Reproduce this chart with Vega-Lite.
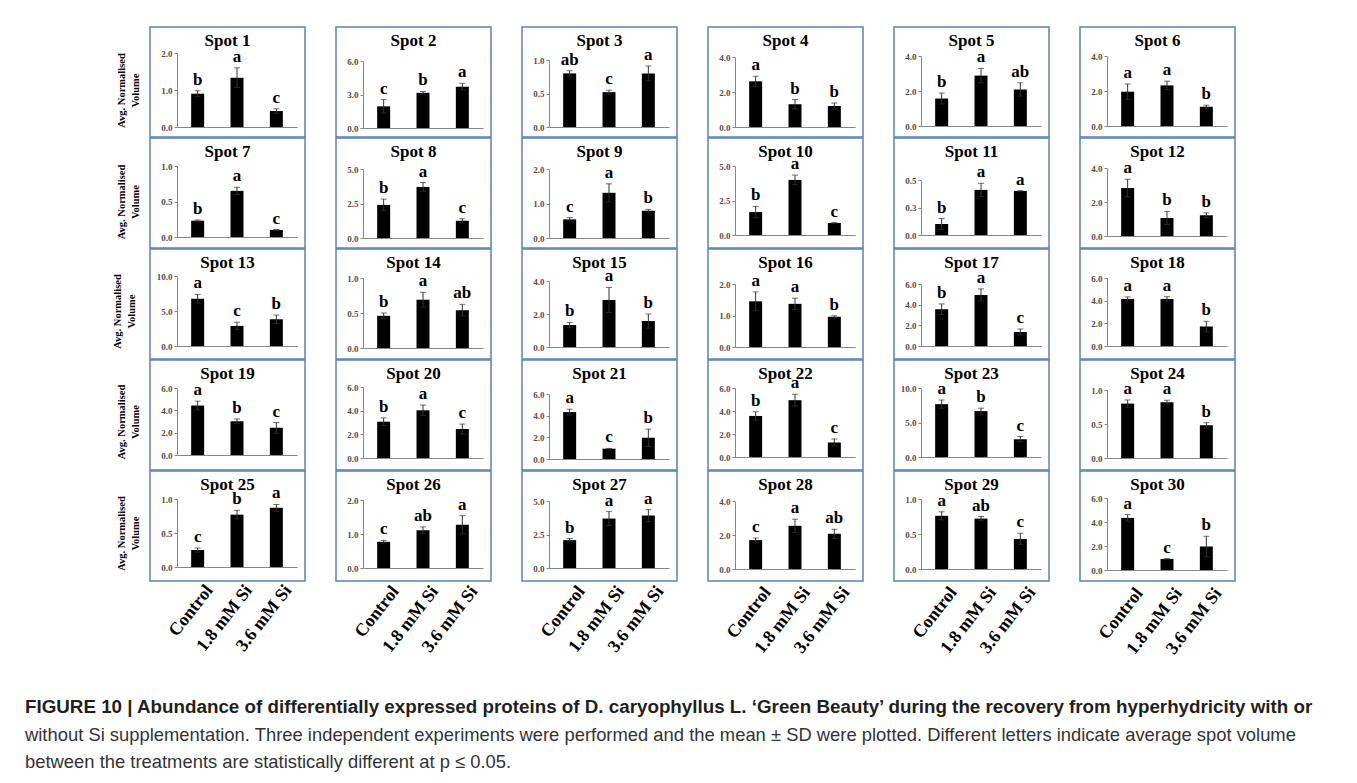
{
"$schema":"https://vega.github.io/schema/vega-lite/v6.json",
"background":"white",
"padding":{"left":25,"top":26,"right":5,"bottom":5},
"datasets":{"d":[
{"spot":1,"treatment":"Control","mean":0.90,"low":0.82,"high":0.98,"letter":"b"},
{"spot":1,"treatment":"1.8 mM Si","mean":1.33,"low":1.07,"high":1.60,"letter":"a"},
{"spot":1,"treatment":"3.6 mM Si","mean":0.43,"low":0.37,"high":0.49,"letter":"c"},
{"spot":2,"treatment":"Control","mean":1.94,"low":1.34,"high":2.54,"letter":"c"},
{"spot":2,"treatment":"1.8 mM Si","mean":3.15,"low":3.03,"high":3.27,"letter":"b"},
{"spot":2,"treatment":"3.6 mM Si","mean":3.70,"low":3.40,"high":4.00,"letter":"a"},
{"spot":3,"treatment":"Control","mean":0.80,"low":0.76,"high":0.84,"letter":"ab"},
{"spot":3,"treatment":"1.8 mM Si","mean":0.52,"low":0.49,"high":0.55,"letter":"c"},
{"spot":3,"treatment":"3.6 mM Si","mean":0.80,"low":0.69,"high":0.91,"letter":"a"},
{"spot":4,"treatment":"Control","mean":2.61,"low":2.32,"high":2.90,"letter":"a"},
{"spot":4,"treatment":"1.8 mM Si","mean":1.30,"low":1.03,"high":1.57,"letter":"b"},
{"spot":4,"treatment":"3.6 mM Si","mean":1.20,"low":1.03,"high":1.37,"letter":"b"},
{"spot":5,"treatment":"Control","mean":1.57,"low":1.26,"high":1.88,"letter":"b"},
{"spot":5,"treatment":"1.8 mM Si","mean":2.88,"low":2.47,"high":3.29,"letter":"a"},
{"spot":5,"treatment":"3.6 mM Si","mean":2.09,"low":1.71,"high":2.47,"letter":"ab"},
{"spot":6,"treatment":"Control","mean":1.96,"low":1.52,"high":2.40,"letter":"a"},
{"spot":6,"treatment":"1.8 mM Si","mean":2.32,"low":2.08,"high":2.56,"letter":"a"},
{"spot":6,"treatment":"3.6 mM Si","mean":1.10,"low":1.01,"high":1.19,"letter":"b"},
{"spot":7,"treatment":"Control","mean":0.23,"low":0.22,"high":0.24,"letter":"b"},
{"spot":7,"treatment":"1.8 mM Si","mean":0.65,"low":0.60,"high":0.70,"letter":"a"},
{"spot":7,"treatment":"3.6 mM Si","mean":0.10,"low":0.095,"high":0.105,"letter":"c"},
{"spot":8,"treatment":"Control","mean":2.40,"low":1.98,"high":2.82,"letter":"b"},
{"spot":8,"treatment":"1.8 mM Si","mean":3.70,"low":3.38,"high":4.02,"letter":"a"},
{"spot":8,"treatment":"3.6 mM Si","mean":1.25,"low":1.10,"high":1.40,"letter":"c"},
{"spot":9,"treatment":"Control","mean":0.54,"low":0.49,"high":0.59,"letter":"c"},
{"spot":9,"treatment":"1.8 mM Si","mean":1.31,"low":1.05,"high":1.57,"letter":"a"},
{"spot":9,"treatment":"3.6 mM Si","mean":0.79,"low":0.75,"high":0.83,"letter":"b"},
{"spot":10,"treatment":"Control","mean":1.66,"low":1.25,"high":2.07,"letter":"b"},
{"spot":10,"treatment":"1.8 mM Si","mean":3.99,"low":3.64,"high":4.34,"letter":"a"},
{"spot":10,"treatment":"3.6 mM Si","mean":0.87,"low":0.84,"high":0.90,"letter":"c"},
{"spot":11,"treatment":"Control","mean":0.10,"low":0.05,"high":0.15,"letter":"b"},
{"spot":11,"treatment":"1.8 mM Si","mean":0.41,"low":0.35,"high":0.47,"letter":"a"},
{"spot":11,"treatment":"3.6 mM Si","mean":0.40,"low":0.397,"high":0.403,"letter":"a"},
{"spot":12,"treatment":"Control","mean":2.82,"low":2.30,"high":3.34,"letter":"a"},
{"spot":12,"treatment":"1.8 mM Si","mean":1.06,"low":0.67,"high":1.45,"letter":"b"},
{"spot":12,"treatment":"3.6 mM Si","mean":1.22,"low":1.08,"high":1.36,"letter":"b"},
{"spot":13,"treatment":"Control","mean":6.75,"low":6.13,"high":7.37,"letter":"a"},
{"spot":13,"treatment":"1.8 mM Si","mean":2.87,"low":2.34,"high":3.40,"letter":"c"},
{"spot":13,"treatment":"3.6 mM Si","mean":3.83,"low":3.23,"high":4.43,"letter":"b"},
{"spot":14,"treatment":"Control","mean":0.46,"low":0.42,"high":0.50,"letter":"b"},
{"spot":14,"treatment":"1.8 mM Si","mean":0.69,"low":0.585,"high":0.795,"letter":"a"},
{"spot":14,"treatment":"3.6 mM Si","mean":0.54,"low":0.456,"high":0.624,"letter":"ab"},
{"spot":15,"treatment":"Control","mean":1.33,"low":1.17,"high":1.49,"letter":"b"},
{"spot":15,"treatment":"1.8 mM Si","mean":2.85,"low":2.09,"high":3.61,"letter":"a"},
{"spot":15,"treatment":"3.6 mM Si","mean":1.57,"low":1.14,"high":2.00,"letter":"b"},
{"spot":16,"treatment":"Control","mean":1.45,"low":1.15,"high":1.75,"letter":"a"},
{"spot":16,"treatment":"1.8 mM Si","mean":1.37,"low":1.19,"high":1.55,"letter":"a"},
{"spot":16,"treatment":"3.6 mM Si","mean":0.96,"low":0.93,"high":0.99,"letter":"b"},
{"spot":17,"treatment":"Control","mean":3.56,"low":3.05,"high":4.07,"letter":"b"},
{"spot":17,"treatment":"1.8 mM Si","mean":4.94,"low":4.35,"high":5.53,"letter":"a"},
{"spot":17,"treatment":"3.6 mM Si","mean":1.35,"low":1.06,"high":1.64,"letter":"c"},
{"spot":18,"treatment":"Control","mean":4.15,"low":3.97,"high":4.33,"letter":"a"},
{"spot":18,"treatment":"1.8 mM Si","mean":4.15,"low":3.95,"high":4.35,"letter":"a"},
{"spot":18,"treatment":"3.6 mM Si","mean":1.71,"low":1.24,"high":2.18,"letter":"b"},
{"spot":19,"treatment":"Control","mean":4.43,"low":4.04,"high":4.82,"letter":"a"},
{"spot":19,"treatment":"1.8 mM Si","mean":3.02,"low":2.81,"high":3.23,"letter":"b"},
{"spot":19,"treatment":"3.6 mM Si","mean":2.43,"low":1.95,"high":2.91,"letter":"c"},
{"spot":20,"treatment":"Control","mean":3.07,"low":2.75,"high":3.39,"letter":"b"},
{"spot":20,"treatment":"1.8 mM Si","mean":4.03,"low":3.59,"high":4.47,"letter":"a"},
{"spot":20,"treatment":"3.6 mM Si","mean":2.45,"low":2.03,"high":2.87,"letter":"c"},
{"spot":21,"treatment":"Control","mean":4.33,"low":4.06,"high":4.60,"letter":"a"},
{"spot":21,"treatment":"1.8 mM Si","mean":0.95,"low":0.92,"high":0.98,"letter":"c"},
{"spot":21,"treatment":"3.6 mM Si","mean":1.96,"low":1.16,"high":2.76,"letter":"b"},
{"spot":22,"treatment":"Control","mean":3.57,"low":3.20,"high":3.94,"letter":"b"},
{"spot":22,"treatment":"1.8 mM Si","mean":4.94,"low":4.43,"high":5.45,"letter":"a"},
{"spot":22,"treatment":"3.6 mM Si","mean":1.26,"low":0.95,"high":1.57,"letter":"c"},
{"spot":23,"treatment":"Control","mean":7.66,"low":7.06,"high":8.26,"letter":"a"},
{"spot":23,"treatment":"1.8 mM Si","mean":6.65,"low":6.22,"high":7.08,"letter":"b"},
{"spot":23,"treatment":"3.6 mM Si","mean":2.58,"low":2.20,"high":2.96,"letter":"c"},
{"spot":24,"treatment":"Control","mean":0.80,"low":0.746,"high":0.854,"letter":"a"},
{"spot":24,"treatment":"1.8 mM Si","mean":0.82,"low":0.79,"high":0.85,"letter":"a"},
{"spot":24,"treatment":"3.6 mM Si","mean":0.48,"low":0.44,"high":0.52,"letter":"b"},
{"spot":25,"treatment":"Control","mean":0.25,"low":0.22,"high":0.28,"letter":"c"},
{"spot":25,"treatment":"1.8 mM Si","mean":0.77,"low":0.706,"high":0.834,"letter":"b"},
{"spot":25,"treatment":"3.6 mM Si","mean":0.87,"low":0.82,"high":0.92,"letter":"a"},
{"spot":26,"treatment":"Control","mean":0.77,"low":0.73,"high":0.81,"letter":"c"},
{"spot":26,"treatment":"1.8 mM Si","mean":1.11,"low":1.01,"high":1.21,"letter":"ab"},
{"spot":26,"treatment":"3.6 mM Si","mean":1.27,"low":1.00,"high":1.54,"letter":"a"},
{"spot":27,"treatment":"Control","mean":2.08,"low":1.96,"high":2.20,"letter":"b"},
{"spot":27,"treatment":"1.8 mM Si","mean":3.69,"low":3.17,"high":4.21,"letter":"a"},
{"spot":27,"treatment":"3.6 mM Si","mean":3.91,"low":3.46,"high":4.36,"letter":"a"},
{"spot":28,"treatment":"Control","mean":1.70,"low":1.58,"high":1.82,"letter":"c"},
{"spot":28,"treatment":"1.8 mM Si","mean":2.54,"low":2.15,"high":2.93,"letter":"a"},
{"spot":28,"treatment":"3.6 mM Si","mean":2.07,"low":1.80,"high":2.34,"letter":"ab"},
{"spot":29,"treatment":"Control","mean":0.76,"low":0.703,"high":0.817,"letter":"a"},
{"spot":29,"treatment":"1.8 mM Si","mean":0.72,"low":0.69,"high":0.75,"letter":"ab"},
{"spot":29,"treatment":"3.6 mM Si","mean":0.43,"low":0.35,"high":0.51,"letter":"c"},
{"spot":30,"treatment":"Control","mean":4.34,"low":4.06,"high":4.62,"letter":"a"},
{"spot":30,"treatment":"1.8 mM Si","mean":0.92,"low":0.89,"high":0.95,"letter":"c"},
{"spot":30,"treatment":"3.6 mM Si","mean":1.96,"low":1.11,"high":2.81,"letter":"b"}
]},
"data":{"name":"d"},
"title":{"text":"FIGURE 10 | Abundance of differentially expressed proteins of D. caryophyllus L. ‘Green Beauty’ during the recovery from hyperhydricity with or","subtitle":["without Si supplementation. Three independent experiments were performed and the mean ± SD were plotted. Different letters indicate average spot volume","between the treatments are statistically different at p ≤ 0.05."],"orient":"bottom","anchor":"start","frame":"group","offset":40,"dx":-125,"font":"Liberation Sans","fontSize":18.8,"fontWeight":"bold","color":"#231f20","subtitleFont":"Liberation Sans","subtitleFontSize":18.4,"subtitleColor":"#333333","subtitlePadding":9,"subtitleLineHeight":27},
"columns":6,
"spacing":{"row":1,"column":31},
"bounds":"flush",
"resolve":{"scale":{"x":"independent","y":"independent"},"axis":{"x":"independent","y":"independent"}},
"config":{
"view":{"stroke":"#5a82b8","strokeWidth":1.5,"continuousWidth":155,"continuousHeight":110,"discreteWidth":155,"discreteHeight":110},
"title":{"font":"Liberation Serif","fontSize":17,"fontWeight":"bold","color":"black","offset":-23,"frame":"group","anchor":"middle"},
"scale":{"bandPaddingInner":0.67,"bandPaddingOuter":0.36},
"bar":{"color":"black"},
"rule":{"color":"#333333","strokeWidth":1},
"tick":{"color":"#333333","thickness":1},
"text":{"font":"Liberation Serif","fontWeight":"bold","fontSize":17,"baseline":"bottom","dy":-2,"color":"black"},
"axis":{"grid":false},
"axisY":{"offset":-27,"domainColor":"#868686","tickColor":"#868686","tickSize":3,"labelFont":"Liberation Serif","labelFontWeight":"bold","labelFontSize":9,"labelColor":"#4d4d4d","labelPadding":2,"titleFont":"Liberation Serif","titleFontWeight":"bold","titleFontSize":10.5,"titleColor":"black","titlePadding":20,"titleLineHeight":14},
"axisX":{"domainColor":"#868686","ticks":false,"labelAngle":-52,"labelFont":"Liberation Serif","labelFontWeight":"bold","labelFontSize":18,"labelColor":"black","labelPadding":20,"labelOffset":12}
},
"concat":[
{"width":155,"height":110,"title":"Spot 1","transform":[{"filter":"datum.spot==1"}],"encoding":{"x":{"field":"treatment","type":"nominal","sort":null,"scale":{"range":[27,147]},"axis":{"offset":-10,"labels":false,"title":null}},"y":{"field":"mean","type":"quantitative","scale":{"domain":[0,2],"range":[100,26]},"axis":{"values":[0,1,2],"format":".1f","title":["Avg. Normalised","Volume"]}}},"layer":[{"mark":"bar"},{"mark":"rule","encoding":{"y":{"field":"low","type":"quantitative"},"y2":{"field":"high"}}},{"mark":{"type":"tick","size":6},"encoding":{"y":{"field":"low","type":"quantitative"}}},{"mark":{"type":"tick","size":6},"encoding":{"y":{"field":"high","type":"quantitative"}}},{"mark":"text","encoding":{"y":{"field":"high","type":"quantitative"},"text":{"field":"letter"}}}]},
{"width":155,"height":110,"title":"Spot 2","transform":[{"filter":"datum.spot==2"}],"encoding":{"x":{"field":"treatment","type":"nominal","sort":null,"scale":{"range":[27,147]},"axis":{"offset":-9,"labels":false,"title":null}},"y":{"field":"mean","type":"quantitative","scale":{"domain":[0,6],"range":[101,34]},"axis":{"values":[0,3,6],"format":".1f","title":null}}},"layer":[{"mark":"bar"},{"mark":"rule","encoding":{"y":{"field":"low","type":"quantitative"},"y2":{"field":"high"}}},{"mark":{"type":"tick","size":6},"encoding":{"y":{"field":"low","type":"quantitative"}}},{"mark":{"type":"tick","size":6},"encoding":{"y":{"field":"high","type":"quantitative"}}},{"mark":"text","encoding":{"y":{"field":"high","type":"quantitative"},"text":{"field":"letter"}}}]},
{"width":155,"height":110,"title":"Spot 3","transform":[{"filter":"datum.spot==3"}],"encoding":{"x":{"field":"treatment","type":"nominal","sort":null,"scale":{"range":[27,147]},"axis":{"offset":-10,"labels":false,"title":null}},"y":{"field":"mean","type":"quantitative","scale":{"domain":[0,1],"range":[100,33]},"axis":{"values":[0,0.5,1],"format":".1f","title":null}}},"layer":[{"mark":"bar"},{"mark":"rule","encoding":{"y":{"field":"low","type":"quantitative"},"y2":{"field":"high"}}},{"mark":{"type":"tick","size":6},"encoding":{"y":{"field":"low","type":"quantitative"}}},{"mark":{"type":"tick","size":6},"encoding":{"y":{"field":"high","type":"quantitative"}}},{"mark":"text","encoding":{"y":{"field":"high","type":"quantitative"},"text":{"field":"letter"}}}]},
{"width":155,"height":110,"title":"Spot 4","transform":[{"filter":"datum.spot==4"}],"encoding":{"x":{"field":"treatment","type":"nominal","sort":null,"scale":{"range":[27,147]},"axis":{"offset":-10,"labels":false,"title":null}},"y":{"field":"mean","type":"quantitative","scale":{"domain":[0,4],"range":[100,30]},"axis":{"values":[0,2,4],"format":".1f","title":null}}},"layer":[{"mark":"bar"},{"mark":"rule","encoding":{"y":{"field":"low","type":"quantitative"},"y2":{"field":"high"}}},{"mark":{"type":"tick","size":6},"encoding":{"y":{"field":"low","type":"quantitative"}}},{"mark":{"type":"tick","size":6},"encoding":{"y":{"field":"high","type":"quantitative"}}},{"mark":"text","encoding":{"y":{"field":"high","type":"quantitative"},"text":{"field":"letter"}}}]},
{"width":155,"height":110,"title":"Spot 5","transform":[{"filter":"datum.spot==5"}],"encoding":{"x":{"field":"treatment","type":"nominal","sort":null,"scale":{"range":[27,147]},"axis":{"offset":-11,"labels":false,"title":null}},"y":{"field":"mean","type":"quantitative","scale":{"domain":[0,4],"range":[99,29]},"axis":{"values":[0,2,4],"format":".1f","title":null}}},"layer":[{"mark":"bar"},{"mark":"rule","encoding":{"y":{"field":"low","type":"quantitative"},"y2":{"field":"high"}}},{"mark":{"type":"tick","size":6},"encoding":{"y":{"field":"low","type":"quantitative"}}},{"mark":{"type":"tick","size":6},"encoding":{"y":{"field":"high","type":"quantitative"}}},{"mark":"text","encoding":{"y":{"field":"high","type":"quantitative"},"text":{"field":"letter"}}}]},
{"width":155,"height":110,"title":"Spot 6","transform":[{"filter":"datum.spot==6"}],"encoding":{"x":{"field":"treatment","type":"nominal","sort":null,"scale":{"range":[27,147]},"axis":{"offset":-11,"labels":false,"title":null}},"y":{"field":"mean","type":"quantitative","scale":{"domain":[0,4],"range":[99,29]},"axis":{"values":[0,2,4],"format":".1f","title":null}}},"layer":[{"mark":"bar"},{"mark":"rule","encoding":{"y":{"field":"low","type":"quantitative"},"y2":{"field":"high"}}},{"mark":{"type":"tick","size":6},"encoding":{"y":{"field":"low","type":"quantitative"}}},{"mark":{"type":"tick","size":6},"encoding":{"y":{"field":"high","type":"quantitative"}}},{"mark":"text","encoding":{"y":{"field":"high","type":"quantitative"},"text":{"field":"letter"}}}]},
{"width":155,"height":110,"title":"Spot 7","transform":[{"filter":"datum.spot==7"}],"encoding":{"x":{"field":"treatment","type":"nominal","sort":null,"scale":{"range":[27,147]},"axis":{"offset":-11,"labels":false,"title":null}},"y":{"field":"mean","type":"quantitative","scale":{"domain":[0,1],"range":[99,28]},"axis":{"values":[0,0.5,1],"format":".1f","title":["Avg. Normalised","Volume"]}}},"layer":[{"mark":"bar"},{"mark":"rule","encoding":{"y":{"field":"low","type":"quantitative"},"y2":{"field":"high"}}},{"mark":{"type":"tick","size":6},"encoding":{"y":{"field":"low","type":"quantitative"}}},{"mark":{"type":"tick","size":6},"encoding":{"y":{"field":"high","type":"quantitative"}}},{"mark":"text","encoding":{"y":{"field":"high","type":"quantitative"},"text":{"field":"letter"}}}]},
{"width":155,"height":110,"title":"Spot 8","transform":[{"filter":"datum.spot==8"}],"encoding":{"x":{"field":"treatment","type":"nominal","sort":null,"scale":{"range":[27,147]},"axis":{"offset":-10,"labels":false,"title":null}},"y":{"field":"mean","type":"quantitative","scale":{"domain":[0,5],"range":[100,31]},"axis":{"values":[0,2.5,5],"format":".1f","title":null}}},"layer":[{"mark":"bar"},{"mark":"rule","encoding":{"y":{"field":"low","type":"quantitative"},"y2":{"field":"high"}}},{"mark":{"type":"tick","size":6},"encoding":{"y":{"field":"low","type":"quantitative"}}},{"mark":{"type":"tick","size":6},"encoding":{"y":{"field":"high","type":"quantitative"}}},{"mark":"text","encoding":{"y":{"field":"high","type":"quantitative"},"text":{"field":"letter"}}}]},
{"width":155,"height":110,"title":"Spot 9","transform":[{"filter":"datum.spot==9"}],"encoding":{"x":{"field":"treatment","type":"nominal","sort":null,"scale":{"range":[27,147]},"axis":{"offset":-10,"labels":false,"title":null}},"y":{"field":"mean","type":"quantitative","scale":{"domain":[0,2],"range":[100,31]},"axis":{"values":[0,1,2],"format":".1f","title":null}}},"layer":[{"mark":"bar"},{"mark":"rule","encoding":{"y":{"field":"low","type":"quantitative"},"y2":{"field":"high"}}},{"mark":{"type":"tick","size":6},"encoding":{"y":{"field":"low","type":"quantitative"}}},{"mark":{"type":"tick","size":6},"encoding":{"y":{"field":"high","type":"quantitative"}}},{"mark":"text","encoding":{"y":{"field":"high","type":"quantitative"},"text":{"field":"letter"}}}]},
{"width":155,"height":110,"title":"Spot 10","transform":[{"filter":"datum.spot==10"}],"encoding":{"x":{"field":"treatment","type":"nominal","sort":null,"scale":{"range":[27,147]},"axis":{"offset":-13,"labels":false,"title":null}},"y":{"field":"mean","type":"quantitative","scale":{"domain":[0,5],"range":[97,28]},"axis":{"values":[0,2.5,5],"format":".1f","title":null}}},"layer":[{"mark":"bar"},{"mark":"rule","encoding":{"y":{"field":"low","type":"quantitative"},"y2":{"field":"high"}}},{"mark":{"type":"tick","size":6},"encoding":{"y":{"field":"low","type":"quantitative"}}},{"mark":{"type":"tick","size":6},"encoding":{"y":{"field":"high","type":"quantitative"}}},{"mark":"text","encoding":{"y":{"field":"high","type":"quantitative"},"text":{"field":"letter"}}}]},
{"width":155,"height":110,"title":"Spot 11","transform":[{"filter":"datum.spot==11"}],"encoding":{"x":{"field":"treatment","type":"nominal","sort":null,"scale":{"range":[27,147]},"axis":{"offset":-13,"labels":false,"title":null}},"y":{"field":"mean","type":"quantitative","scale":{"domain":[0,0.5],"range":[97,42]},"axis":{"values":[0,0.25,0.5],"format":".1f","title":null}}},"layer":[{"mark":"bar"},{"mark":"rule","encoding":{"y":{"field":"low","type":"quantitative"},"y2":{"field":"high"}}},{"mark":{"type":"tick","size":6},"encoding":{"y":{"field":"low","type":"quantitative"}}},{"mark":{"type":"tick","size":6},"encoding":{"y":{"field":"high","type":"quantitative"}}},{"mark":"text","encoding":{"y":{"field":"high","type":"quantitative"},"text":{"field":"letter"}}}]},
{"width":155,"height":110,"title":"Spot 12","transform":[{"filter":"datum.spot==12"}],"encoding":{"x":{"field":"treatment","type":"nominal","sort":null,"scale":{"range":[27,147]},"axis":{"offset":-12,"labels":false,"title":null}},"y":{"field":"mean","type":"quantitative","scale":{"domain":[0,4],"range":[98,30]},"axis":{"values":[0,2,4],"format":".1f","title":null}}},"layer":[{"mark":"bar"},{"mark":"rule","encoding":{"y":{"field":"low","type":"quantitative"},"y2":{"field":"high"}}},{"mark":{"type":"tick","size":6},"encoding":{"y":{"field":"low","type":"quantitative"}}},{"mark":{"type":"tick","size":6},"encoding":{"y":{"field":"high","type":"quantitative"}}},{"mark":"text","encoding":{"y":{"field":"high","type":"quantitative"},"text":{"field":"letter"}}}]},
{"width":155,"height":110,"title":"Spot 13","transform":[{"filter":"datum.spot==13"}],"encoding":{"x":{"field":"treatment","type":"nominal","sort":null,"scale":{"range":[27,147]},"axis":{"offset":-13,"labels":false,"title":null}},"y":{"field":"mean","type":"quantitative","scale":{"domain":[0,10],"range":[97,27]},"axis":{"values":[0,5,10],"format":".1f","title":["Avg. Normalised","Volume"]}}},"layer":[{"mark":"bar"},{"mark":"rule","encoding":{"y":{"field":"low","type":"quantitative"},"y2":{"field":"high"}}},{"mark":{"type":"tick","size":6},"encoding":{"y":{"field":"low","type":"quantitative"}}},{"mark":{"type":"tick","size":6},"encoding":{"y":{"field":"high","type":"quantitative"}}},{"mark":"text","encoding":{"y":{"field":"high","type":"quantitative"},"text":{"field":"letter"}}}]},
{"width":155,"height":110,"title":"Spot 14","transform":[{"filter":"datum.spot==14"}],"encoding":{"x":{"field":"treatment","type":"nominal","sort":null,"scale":{"range":[27,147]},"axis":{"offset":-11,"labels":false,"title":null}},"y":{"field":"mean","type":"quantitative","scale":{"domain":[0,1],"range":[99,29]},"axis":{"values":[0,0.5,1],"format":".1f","title":null}}},"layer":[{"mark":"bar"},{"mark":"rule","encoding":{"y":{"field":"low","type":"quantitative"},"y2":{"field":"high"}}},{"mark":{"type":"tick","size":6},"encoding":{"y":{"field":"low","type":"quantitative"}}},{"mark":{"type":"tick","size":6},"encoding":{"y":{"field":"high","type":"quantitative"}}},{"mark":"text","encoding":{"y":{"field":"high","type":"quantitative"},"text":{"field":"letter"}}}]},
{"width":155,"height":110,"title":"Spot 15","transform":[{"filter":"datum.spot==15"}],"encoding":{"x":{"field":"treatment","type":"nominal","sort":null,"scale":{"range":[27,147]},"axis":{"offset":-12,"labels":false,"title":null}},"y":{"field":"mean","type":"quantitative","scale":{"domain":[0,4],"range":[98,32]},"axis":{"values":[0,2,4],"format":".1f","title":null}}},"layer":[{"mark":"bar"},{"mark":"rule","encoding":{"y":{"field":"low","type":"quantitative"},"y2":{"field":"high"}}},{"mark":{"type":"tick","size":6},"encoding":{"y":{"field":"low","type":"quantitative"}}},{"mark":{"type":"tick","size":6},"encoding":{"y":{"field":"high","type":"quantitative"}}},{"mark":"text","encoding":{"y":{"field":"high","type":"quantitative"},"text":{"field":"letter"}}}]},
{"width":155,"height":110,"title":"Spot 16","transform":[{"filter":"datum.spot==16"}],"encoding":{"x":{"field":"treatment","type":"nominal","sort":null,"scale":{"range":[27,147]},"axis":{"offset":-12,"labels":false,"title":null}},"y":{"field":"mean","type":"quantitative","scale":{"domain":[0,2],"range":[98,35]},"axis":{"values":[0,1,2],"format":".1f","title":null}}},"layer":[{"mark":"bar"},{"mark":"rule","encoding":{"y":{"field":"low","type":"quantitative"},"y2":{"field":"high"}}},{"mark":{"type":"tick","size":6},"encoding":{"y":{"field":"low","type":"quantitative"}}},{"mark":{"type":"tick","size":6},"encoding":{"y":{"field":"high","type":"quantitative"}}},{"mark":"text","encoding":{"y":{"field":"high","type":"quantitative"},"text":{"field":"letter"}}}]},
{"width":155,"height":110,"title":"Spot 17","transform":[{"filter":"datum.spot==17"}],"encoding":{"x":{"field":"treatment","type":"nominal","sort":null,"scale":{"range":[27,147]},"axis":{"offset":-13,"labels":false,"title":null}},"y":{"field":"mean","type":"quantitative","scale":{"domain":[0,6],"range":[97,35]},"axis":{"values":[0,2,4,6],"format":".1f","title":null}}},"layer":[{"mark":"bar"},{"mark":"rule","encoding":{"y":{"field":"low","type":"quantitative"},"y2":{"field":"high"}}},{"mark":{"type":"tick","size":6},"encoding":{"y":{"field":"low","type":"quantitative"}}},{"mark":{"type":"tick","size":6},"encoding":{"y":{"field":"high","type":"quantitative"}}},{"mark":"text","encoding":{"y":{"field":"high","type":"quantitative"},"text":{"field":"letter"}}}]},
{"width":155,"height":110,"title":"Spot 18","transform":[{"filter":"datum.spot==18"}],"encoding":{"x":{"field":"treatment","type":"nominal","sort":null,"scale":{"range":[27,147]},"axis":{"offset":-13,"labels":false,"title":null}},"y":{"field":"mean","type":"quantitative","scale":{"domain":[0,6],"range":[97,29]},"axis":{"values":[0,2,4,6],"format":".1f","title":null}}},"layer":[{"mark":"bar"},{"mark":"rule","encoding":{"y":{"field":"low","type":"quantitative"},"y2":{"field":"high"}}},{"mark":{"type":"tick","size":6},"encoding":{"y":{"field":"low","type":"quantitative"}}},{"mark":{"type":"tick","size":6},"encoding":{"y":{"field":"high","type":"quantitative"}}},{"mark":"text","encoding":{"y":{"field":"high","type":"quantitative"},"text":{"field":"letter"}}}]},
{"width":155,"height":110,"title":"Spot 19","transform":[{"filter":"datum.spot==19"}],"encoding":{"x":{"field":"treatment","type":"nominal","sort":null,"scale":{"range":[27,147]},"axis":{"offset":-15,"labels":false,"title":null}},"y":{"field":"mean","type":"quantitative","scale":{"domain":[0,6],"range":[95,28]},"axis":{"values":[0,2,4,6],"format":".1f","title":["Avg. Normalised","Volume"]}}},"layer":[{"mark":"bar"},{"mark":"rule","encoding":{"y":{"field":"low","type":"quantitative"},"y2":{"field":"high"}}},{"mark":{"type":"tick","size":6},"encoding":{"y":{"field":"low","type":"quantitative"}}},{"mark":{"type":"tick","size":6},"encoding":{"y":{"field":"high","type":"quantitative"}}},{"mark":"text","encoding":{"y":{"field":"high","type":"quantitative"},"text":{"field":"letter"}}}]},
{"width":155,"height":110,"title":"Spot 20","transform":[{"filter":"datum.spot==20"}],"encoding":{"x":{"field":"treatment","type":"nominal","sort":null,"scale":{"range":[27,147]},"axis":{"offset":-12,"labels":false,"title":null}},"y":{"field":"mean","type":"quantitative","scale":{"domain":[0,6],"range":[98,27]},"axis":{"values":[0,2,4,6],"format":".1f","title":null}}},"layer":[{"mark":"bar"},{"mark":"rule","encoding":{"y":{"field":"low","type":"quantitative"},"y2":{"field":"high"}}},{"mark":{"type":"tick","size":6},"encoding":{"y":{"field":"low","type":"quantitative"}}},{"mark":{"type":"tick","size":6},"encoding":{"y":{"field":"high","type":"quantitative"}}},{"mark":"text","encoding":{"y":{"field":"high","type":"quantitative"},"text":{"field":"letter"}}}]},
{"width":155,"height":110,"title":"Spot 21","transform":[{"filter":"datum.spot==21"}],"encoding":{"x":{"field":"treatment","type":"nominal","sort":null,"scale":{"range":[27,147]},"axis":{"offset":-11,"labels":false,"title":null}},"y":{"field":"mean","type":"quantitative","scale":{"domain":[0,6],"range":[99,34]},"axis":{"values":[0,2,4,6],"format":".1f","title":null}}},"layer":[{"mark":"bar"},{"mark":"rule","encoding":{"y":{"field":"low","type":"quantitative"},"y2":{"field":"high"}}},{"mark":{"type":"tick","size":6},"encoding":{"y":{"field":"low","type":"quantitative"}}},{"mark":{"type":"tick","size":6},"encoding":{"y":{"field":"high","type":"quantitative"}}},{"mark":"text","encoding":{"y":{"field":"high","type":"quantitative"},"text":{"field":"letter"}}}]},
{"width":155,"height":110,"title":"Spot 22","transform":[{"filter":"datum.spot==22"}],"encoding":{"x":{"field":"treatment","type":"nominal","sort":null,"scale":{"range":[27,147]},"axis":{"offset":-13,"labels":false,"title":null}},"y":{"field":"mean","type":"quantitative","scale":{"domain":[0,6],"range":[97,28]},"axis":{"values":[0,2,4,6],"format":".1f","title":null}}},"layer":[{"mark":"bar"},{"mark":"rule","encoding":{"y":{"field":"low","type":"quantitative"},"y2":{"field":"high"}}},{"mark":{"type":"tick","size":6},"encoding":{"y":{"field":"low","type":"quantitative"}}},{"mark":{"type":"tick","size":6},"encoding":{"y":{"field":"high","type":"quantitative"}}},{"mark":"text","encoding":{"y":{"field":"high","type":"quantitative"},"text":{"field":"letter"}}}]},
{"width":155,"height":110,"title":"Spot 23","transform":[{"filter":"datum.spot==23"}],"encoding":{"x":{"field":"treatment","type":"nominal","sort":null,"scale":{"range":[27,147]},"axis":{"offset":-13,"labels":false,"title":null}},"y":{"field":"mean","type":"quantitative","scale":{"domain":[0,10],"range":[97,28]},"axis":{"values":[0,5,10],"format":".1f","title":null}}},"layer":[{"mark":"bar"},{"mark":"rule","encoding":{"y":{"field":"low","type":"quantitative"},"y2":{"field":"high"}}},{"mark":{"type":"tick","size":6},"encoding":{"y":{"field":"low","type":"quantitative"}}},{"mark":{"type":"tick","size":6},"encoding":{"y":{"field":"high","type":"quantitative"}}},{"mark":"text","encoding":{"y":{"field":"high","type":"quantitative"},"text":{"field":"letter"}}}]},
{"width":155,"height":110,"title":"Spot 24","transform":[{"filter":"datum.spot==24"}],"encoding":{"x":{"field":"treatment","type":"nominal","sort":null,"scale":{"range":[27,147]},"axis":{"offset":-12,"labels":false,"title":null}},"y":{"field":"mean","type":"quantitative","scale":{"domain":[0,1],"range":[98,30]},"axis":{"values":[0,0.5,1],"format":".1f","title":null}}},"layer":[{"mark":"bar"},{"mark":"rule","encoding":{"y":{"field":"low","type":"quantitative"},"y2":{"field":"high"}}},{"mark":{"type":"tick","size":6},"encoding":{"y":{"field":"low","type":"quantitative"}}},{"mark":{"type":"tick","size":6},"encoding":{"y":{"field":"high","type":"quantitative"}}},{"mark":"text","encoding":{"y":{"field":"high","type":"quantitative"},"text":{"field":"letter"}}}]},
{"width":155,"height":110,"title":"Spot 25","transform":[{"filter":"datum.spot==25"}],"encoding":{"x":{"field":"treatment","type":"nominal","sort":null,"scale":{"range":[27,147]},"axis":{"offset":-14,"labels":true,"title":null}},"y":{"field":"mean","type":"quantitative","scale":{"domain":[0,1],"range":[96,28]},"axis":{"values":[0,0.5,1],"format":".1f","title":["Avg. Normalised","Volume"]}}},"layer":[{"mark":"bar"},{"mark":"rule","encoding":{"y":{"field":"low","type":"quantitative"},"y2":{"field":"high"}}},{"mark":{"type":"tick","size":6},"encoding":{"y":{"field":"low","type":"quantitative"}}},{"mark":{"type":"tick","size":6},"encoding":{"y":{"field":"high","type":"quantitative"}}},{"mark":"text","encoding":{"y":{"field":"high","type":"quantitative"},"text":{"field":"letter"}}}]},
{"width":155,"height":110,"title":"Spot 26","transform":[{"filter":"datum.spot==26"}],"encoding":{"x":{"field":"treatment","type":"nominal","sort":null,"scale":{"range":[27,147]},"axis":{"offset":-13,"labels":true,"title":null}},"y":{"field":"mean","type":"quantitative","scale":{"domain":[0,2],"range":[97,29]},"axis":{"values":[0,1,2],"format":".1f","title":null}}},"layer":[{"mark":"bar"},{"mark":"rule","encoding":{"y":{"field":"low","type":"quantitative"},"y2":{"field":"high"}}},{"mark":{"type":"tick","size":6},"encoding":{"y":{"field":"low","type":"quantitative"}}},{"mark":{"type":"tick","size":6},"encoding":{"y":{"field":"high","type":"quantitative"}}},{"mark":"text","encoding":{"y":{"field":"high","type":"quantitative"},"text":{"field":"letter"}}}]},
{"width":155,"height":110,"title":"Spot 27","transform":[{"filter":"datum.spot==27"}],"encoding":{"x":{"field":"treatment","type":"nominal","sort":null,"scale":{"range":[27,147]},"axis":{"offset":-13,"labels":true,"title":null}},"y":{"field":"mean","type":"quantitative","scale":{"domain":[0,5],"range":[97,30]},"axis":{"values":[0,2.5,5],"format":".1f","title":null}}},"layer":[{"mark":"bar"},{"mark":"rule","encoding":{"y":{"field":"low","type":"quantitative"},"y2":{"field":"high"}}},{"mark":{"type":"tick","size":6},"encoding":{"y":{"field":"low","type":"quantitative"}}},{"mark":{"type":"tick","size":6},"encoding":{"y":{"field":"high","type":"quantitative"}}},{"mark":"text","encoding":{"y":{"field":"high","type":"quantitative"},"text":{"field":"letter"}}}]},
{"width":155,"height":110,"title":"Spot 28","transform":[{"filter":"datum.spot==28"}],"encoding":{"x":{"field":"treatment","type":"nominal","sort":null,"scale":{"range":[27,147]},"axis":{"offset":-12,"labels":true,"title":null}},"y":{"field":"mean","type":"quantitative","scale":{"domain":[0,4],"range":[98,30]},"axis":{"values":[0,2,4],"format":".1f","title":null}}},"layer":[{"mark":"bar"},{"mark":"rule","encoding":{"y":{"field":"low","type":"quantitative"},"y2":{"field":"high"}}},{"mark":{"type":"tick","size":6},"encoding":{"y":{"field":"low","type":"quantitative"}}},{"mark":{"type":"tick","size":6},"encoding":{"y":{"field":"high","type":"quantitative"}}},{"mark":"text","encoding":{"y":{"field":"high","type":"quantitative"},"text":{"field":"letter"}}}]},
{"width":155,"height":110,"title":"Spot 29","transform":[{"filter":"datum.spot==29"}],"encoding":{"x":{"field":"treatment","type":"nominal","sort":null,"scale":{"range":[27,147]},"axis":{"offset":-12,"labels":true,"title":null}},"y":{"field":"mean","type":"quantitative","scale":{"domain":[0,1],"range":[98,28]},"axis":{"values":[0,0.5,1],"format":".1f","title":null}}},"layer":[{"mark":"bar"},{"mark":"rule","encoding":{"y":{"field":"low","type":"quantitative"},"y2":{"field":"high"}}},{"mark":{"type":"tick","size":6},"encoding":{"y":{"field":"low","type":"quantitative"}}},{"mark":{"type":"tick","size":6},"encoding":{"y":{"field":"high","type":"quantitative"}}},{"mark":"text","encoding":{"y":{"field":"high","type":"quantitative"},"text":{"field":"letter"}}}]},
{"width":155,"height":110,"title":"Spot 30","transform":[{"filter":"datum.spot==30"}],"encoding":{"x":{"field":"treatment","type":"nominal","sort":null,"scale":{"range":[27,147]},"axis":{"offset":-11,"labels":true,"title":null}},"y":{"field":"mean","type":"quantitative","scale":{"domain":[0,6],"range":[99,27]},"axis":{"values":[0,2,4,6],"format":".1f","title":null}}},"layer":[{"mark":"bar"},{"mark":"rule","encoding":{"y":{"field":"low","type":"quantitative"},"y2":{"field":"high"}}},{"mark":{"type":"tick","size":6},"encoding":{"y":{"field":"low","type":"quantitative"}}},{"mark":{"type":"tick","size":6},"encoding":{"y":{"field":"high","type":"quantitative"}}},{"mark":"text","encoding":{"y":{"field":"high","type":"quantitative"},"text":{"field":"letter"}}}]}
]
}
